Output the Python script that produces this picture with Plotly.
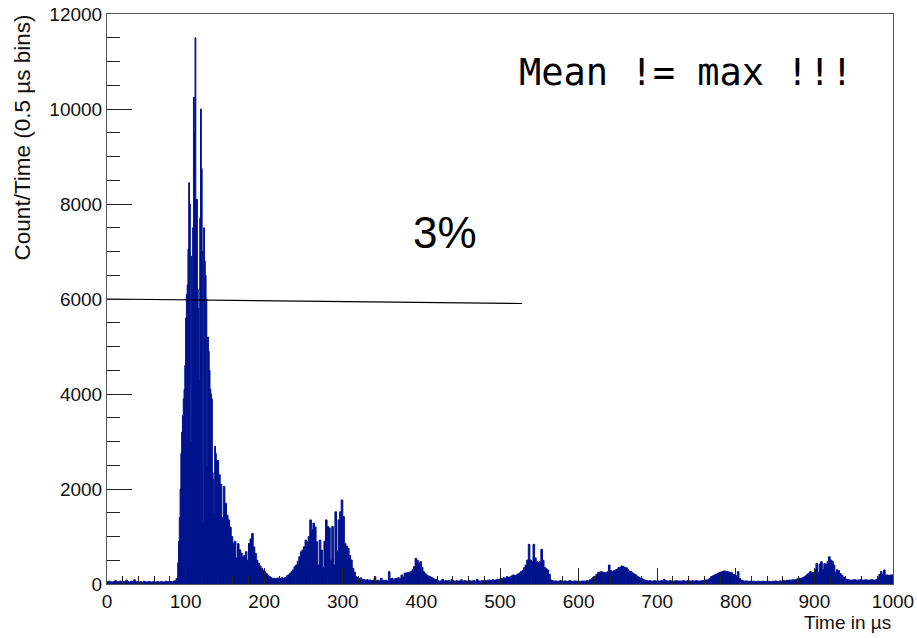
import plotly.graph_objects as go

# ---------------- data ----------------
# histogram segments: start time (µs), bin width (µs)
seg_start = [0.0, 90.0, 140.0]
seg_width = [2.0, 1.0, 2.0]

counts_0_90 = [
    50, 60, 45, 40, 55, 70, 50, 45, 60, 40,
    55, 45, 80, 50, 40, 60, 45, 90, 50, 45,
    40, 50, 35, 60, 45, 40, 55, 45, 40, 50,
    45, 40, 55, 35, 50, 45, 40, 60, 45, 50,
    55, 45, 60, 70, 120,
]

counts_90_140 = [
    450, 900, 1400, 2000, 2750, 3200, 3550, 3900, 4100, 4600,
    5600, 6100, 6300, 7050, 8450, 8000, 3000, 6900, 6200, 7500,
    10250, 9500, 11500, 8100, 8100, 6200, 5800, 4300, 7700, 10000,
    8750, 7000, 1300, 7500, 6800, 6500, 6000, 2500, 5200, 4900,
    4500, 4100, 4000, 3900, 2350, 2200, 1500, 2900, 2750, 2600,
]

counts_140_1000 = [
    2600, 2300, 2100, 1400, 2050, 1700, 1450, 1350, 1200, 1000,   # 140
    860, 900, 550, 850, 720, 650, 575, 600, 680, 500,             # 160
    855, 950, 1065, 780, 645, 500, 435, 380, 330, 290,            # 180
    260, 220, 180, 155, 130, 120, 120, 110, 125, 120,             # 200
    120, 130, 115, 135, 170, 190, 220, 260, 300, 365,             # 220
    400, 480, 575, 680, 715, 785, 925, 890, 1000, 1350,           # 240
    1140, 1280, 1200, 890, 400, 925, 715, 350, 900, 1350,         # 260
    1210, 1180, 500, 1210, 400, 1520, 700, 1350, 1520, 1770,      # 280
    1420, 855, 800, 750, 600, 505, 330, 250, 155, 140,            # 300
    120, 130, 100, 95, 85, 90, 80, 85, 75, 80,                    # 320
    155, 70, 80, 65, 120, 75, 70, 80, 65, 260,                    # 340
    110, 120, 100, 115, 120, 130, 110, 190, 150, 230,             # 360
    230, 240, 250, 260, 300, 365, 540, 500, 435, 470,             # 380
    350, 260, 220, 190, 170, 155, 140, 120, 100, 90,              # 400
    70, 60, 65, 100, 60, 70, 65, 75, 60, 100,                     # 420
    65, 60, 70, 60, 65, 90, 60, 70, 65, 60,                       # 440
    70, 60, 65, 75, 60, 100, 65, 60, 70, 65,                      # 460
    75, 70, 80, 85, 75, 90, 80, 85, 100, 90,                      # 480
    120, 110, 130, 120, 155, 140, 150, 170, 190, 180,             # 500
    190, 210, 230, 260, 280, 345, 400, 505, 835, 505,             # 520
    480, 835, 550, 470, 450, 470, 730, 500, 345, 320,             # 540
    295, 200, 85, 70, 60, 65, 60, 60, 70, 60,                     # 560
    60, 65, 55, 60, 70, 60, 55, 65, 60, 60,                       # 580
    60, 55, 65, 60, 60, 70, 65, 90, 120, 150,                     # 600
    160, 200, 240, 250, 260, 250, 240, 230, 260, 400,             # 620
    280, 260, 280, 295, 310, 345, 350, 380, 370, 345,             # 640
    340, 300, 270, 260, 230, 210, 190, 160, 140, 120,             # 660
    110, 90, 80, 70, 65, 70, 60, 65, 70, 60,                      # 680
    65, 60, 70, 65, 100, 70, 60, 65, 70, 60,                      # 700
    60, 65, 70, 60, 65, 60, 70, 65, 60, 70,                       # 720
    65, 60, 70, 60, 65, 70, 60, 65, 70, 75,                       # 740
    80, 85, 90, 120, 155, 170, 190, 200, 220, 240,                # 760
    250, 260, 275, 270, 260, 255, 245, 235, 200, 190,             # 780
    170, 260, 120, 85, 70, 60, 65, 60, 55, 60,                    # 800
    55, 60, 50, 55, 60, 50, 55, 60, 50, 55,                       # 820
    60, 55, 50, 60, 55, 65, 55, 60, 65, 60,                       # 840
    70, 65, 80, 75, 85, 80, 90, 85, 100, 110,                     # 860
    120, 120, 130, 150, 170, 200, 230, 260, 240, 240,             # 880
    300, 435, 250, 420, 470, 300, 430, 400, 470, 575,             # 900
    505, 480, 400, 250, 300, 280, 220, 190, 150, 120,             # 920
    100, 90, 85, 80, 85, 90, 85, 80, 85, 90,                      # 940
    85, 80, 90, 85, 80, 85, 90, 85, 80, 90,                       # 960
    120, 200, 260, 200, 295, 190, 190, 180, 190, 190,             # 980
]

# straight line drawn across the peak (endpoints in data units)
line_x = [0, 528]
line_y = [6000, 5905]

x_ticks = [0, 100, 200, 300, 400, 500, 600, 700, 800, 900, 1000]
y_ticks = [0, 2000, 4000, 6000, 8000, 10000, 12000]

title_y = "Count/Time (0.5 µs bins)"
title_x = "Time in µs"
note_mean = "Mean != max !!!"
note_pct = "3%"

# ---------------- build step histogram ----------------
segments = [counts_0_90, counts_90_140, counts_140_1000]
edges, vals = [], []
for s0, w, cs in zip(seg_start, seg_width, segments):
    for i, c in enumerate(cs):
        edges.append(s0 + i * w)
        vals.append(c)
edges.append(1000.0)
vals.append(vals[-1])

HIST = "rgb(0,18,140)"
SANS = "Liberation Sans, Arial, Helvetica, sans-serif"
fig = go.Figure()
fig.add_trace(go.Scatter(
    x=edges, y=vals, mode="lines", line=dict(shape="hv", color=HIST, width=1),
    fill="tozeroy", fillcolor=HIST, hoverinfo="skip", showlegend=False))
fig.add_trace(go.Scatter(
    x=line_x, y=line_y, mode="lines", line=dict(color="black", width=1.1),
    hoverinfo="skip", showlegend=False))

tick_font = dict(family=SANS, size=19, color="#111")

fig.update_layout(
    width=917, height=638,
    margin=dict(l=107, r=24, t=14, b=54, autoexpand=False),
    paper_bgcolor="white", plot_bgcolor="white",
    showlegend=False,
)
fig.update_xaxes(
    range=[0, 1000], tickvals=x_ticks, ticktext=[str(v) for v in x_ticks],
    ticks="inside", ticklen=16, tickwidth=1, tickcolor="#222",
    minor=dict(dtick=20, tick0=0, ticks="inside", ticklen=8, tickcolor="#222", tickwidth=1),
    showgrid=False, zeroline=False, showline=True, linecolor="#555", linewidth=1,
    mirror=True, tickfont=tick_font, automargin=False, ticklabeloverflow="allow",
)
fig.update_yaxes(
    range=[0, 12000], tickvals=y_ticks, ticktext=[str(v) for v in y_ticks],
    ticks="inside", ticklen=25, tickwidth=1, tickcolor="#222",
    minor=dict(dtick=500, tick0=0, ticks="inside", ticklen=13, tickcolor="#222", tickwidth=1),
    showgrid=False, zeroline=False, showline=True, linecolor="#555", linewidth=1,
    mirror=True, tickfont=tick_font, automargin=False, ticklabeloverflow="allow",
)

fig.add_annotation(
    text=title_y, textangle=-90, xref="paper", yref="paper",
    x=-0.108, y=1.003, xanchor="center", yanchor="top", showarrow=False,
    font=dict(family=SANS, size=22.5, color="#111"))
fig.add_annotation(
    text=title_x, xref="paper", yref="paper", x=1.0, y=-0.0667,
    xanchor="right", yanchor="middle", showarrow=False,
    font=dict(family=SANS, size=19, color="#111"))
fig.add_annotation(
    text=note_mean, xref="paper", yref="paper", x=0.5216, y=0.8965,
    xanchor="left", yanchor="middle", showarrow=False,
    font=dict(family="DejaVu Sans Mono, monospace", size=37, color="black"))
fig.add_annotation(
    text=note_pct, xref="paper", yref="paper", x=0.387, y=0.616,
    xanchor="left", yanchor="middle", showarrow=False,
    font=dict(family=SANS, size=44, color="black"))

fig.write_html("out.html", config={"displayModeBar": False},
               post_script="document.body.style.margin='0';document.body.style.overflow='hidden';")
